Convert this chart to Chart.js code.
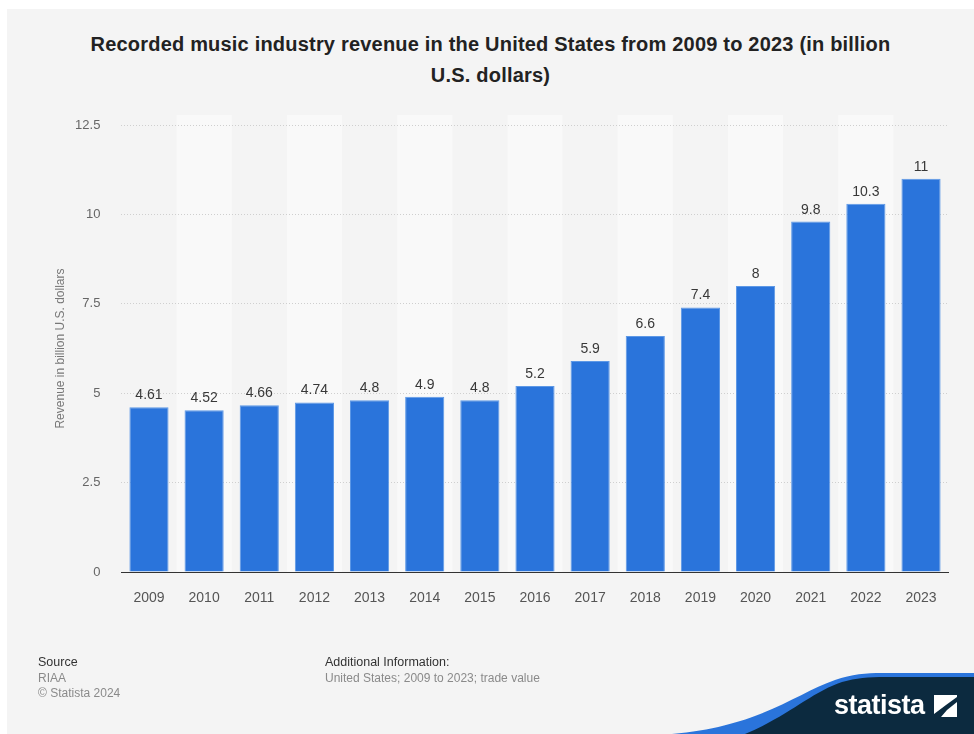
<!DOCTYPE html>
<html>
<head>
<meta charset="utf-8">
<script src="https://cdn.jsdelivr.net/npm/chart.js@4.4.1/dist/chart.umd.min.js"></script>
<style>
  html, body { margin: 0; padding: 0; background: #ffffff; }
  body { width: 974px; height: 734px; position: relative; overflow: hidden; font-family: "Liberation Sans", Arial, sans-serif; }
  #panel { position: absolute; left: 7px; top: 9px; width: 967px; height: 725px; background: #f4f4f4; }
  #title { position: absolute; left: 7px; top: 29px; width: 967px; text-align: center; font-weight: bold; font-size: 20px; letter-spacing: 0.2px; line-height: 31px; color: #222; }
  #chart { position: absolute; left: 0; top: 0; }
  .foot { position: absolute; font-size: 12px; line-height: 15px; white-space: nowrap; }
  .head { color: #333; font-size: 12.5px; }
  .sub { color: #8a8a8a; }
  #logo { position: absolute; left: 0; top: 0; }
  #brand { position: absolute; left: 834px; top: 690px; font-weight: bold; font-size: 27px; line-height: 30px; color: #ffffff; letter-spacing: -0.5px; }
</style>
</head>
<body>
<div id="panel"></div>
<div id="title">Recorded music industry revenue in the United States from 2009 to 2023 (in billion<br>U.S. dollars)</div>
<canvas id="chart" width="974" height="734"></canvas>

<div class="foot head" style="left:38px; top:655px;">Source</div>
<div class="foot sub" style="left:38px; top:671px;">RIAA</div>
<div class="foot sub" style="left:38px; top:686px;">© Statista 2024</div>
<div class="foot head" style="left:325px; top:655px;">Additional Information:</div>
<div class="foot sub" style="left:325px; top:671px;">United States; 2009 to 2023; trade value</div>

<svg id="logo" width="974" height="734" viewBox="0 0 974 734">
  <path d="M 672 734 C 760 726 795 694 835 680 C 852 674 866 673 882 673 L 974 673 L 974 734 Z" fill="#2a74db"/>
  <path d="M 745 734 C 788 716 812 692 842 682 C 856 678 868 677 886 677 L 974 677 L 974 734 Z" fill="#0c2a3f"/>
  <rect x="934" y="695" width="23" height="22" fill="#ffffff"/>
  <path d="M 934 714 L 946 705 L 957 697 L 957 702 L 947 710 L 941 717 L 934 717 Z" fill="#0c2a3f"/>
</svg>
<div id="brand">statista</div>

<script>
// Recorded music revenue, United States (billion U.S. dollars)
const categories = ['2009', '2010', '2011', '2012', '2013', '2014', '2015', '2016',
                    '2017', '2018', '2019', '2020', '2021', '2022', '2023'];
const revenue = [4.61, 4.52, 4.66, 4.74, 4.8, 4.9, 4.8, 5.2, 5.9, 6.6, 7.4, 8, 9.8, 10.3, 11];
const yTicks = [0, 2.5, 5, 7.5, 10, 12.5];
const yAxisTitle = 'Revenue in billion U.S. dollars';

// Light stripes behind every second category
const columnBands = {
  id: 'columnBands',
  beforeDraw(chart) {
    const { ctx, chartArea, scales: { x } } = chart;
    const step = x.getPixelForValue(1) - x.getPixelForValue(0);
    ctx.save();
    ctx.fillStyle = '#f9f9f9';
    categories.forEach((c, i) => {
      if (i % 2 === 1) {
        const cx = x.getPixelForValue(i);
        ctx.fillRect(cx - step / 2, chartArea.top - 10, step, chartArea.bottom - chartArea.top + 10);
      }
    });
    ctx.restore();
  }
};

// Value labels above each bar
const valueLabels = {
  id: 'valueLabels',
  afterDatasetsDraw(chart) {
    const { ctx } = chart;
    const meta = chart.getDatasetMeta(0);
    ctx.save();
    ctx.font = '14px "Liberation Sans", Arial, sans-serif';
    ctx.fillStyle = '#383838';
    ctx.textAlign = 'center';
    ctx.textBaseline = 'alphabetic';
    meta.data.forEach((bar, i) => {
      ctx.fillText(String(revenue[i]), bar.x, bar.y - 8);
    });
    ctx.restore();
  }
};

new Chart(document.getElementById('chart'), {
  type: 'bar',
  data: {
    labels: categories,
    datasets: [{
      data: revenue,
      backgroundColor: '#2a74db',
      borderColor: '#5d98e6',
      borderWidth: 1,
      barPercentage: 0.71,
      categoryPercentage: 1
    }]
  },
  options: {
    responsive: false,
    animation: false,
    devicePixelRatio: 1,
    layout: { padding: { left: 40, right: 25.4, top: 125, bottom: 122 } },
    plugins: { legend: { display: false }, tooltip: { enabled: false }, title: { display: false } },
    scales: {
      x: {
        grid: { display: false },
        border: { display: true, color: '#333333', width: 1 },
        ticks: { color: '#555555', font: { size: 14, family: '"Liberation Sans", Arial, sans-serif' }, padding: 10, maxRotation: 0 },
        afterFit(scale) { scale.height = 40; }
      },
      y: {
        min: 0,
        max: 12.5,
        afterBuildTicks(scale) { scale.ticks = yTicks.map(v => ({ value: v })); },
        grid: { color: '#cfcfcf', lineWidth: 1, drawTicks: false },
        border: { display: false, dash: [1, 2] },
        ticks: { color: '#666666', font: { size: 13, family: '"Liberation Sans", Arial, sans-serif' }, padding: 21 },
        title: { display: true, text: yAxisTitle, color: '#777777', font: { size: 12, family: '"Liberation Sans", Arial, sans-serif' }, padding: { top: 13.5, bottom: 0 } },
        afterFit(scale) { scale.width = 81.4; }
      }
    }
  },
  plugins: [columnBands, valueLabels]
});
</script>
</body>
</html>
